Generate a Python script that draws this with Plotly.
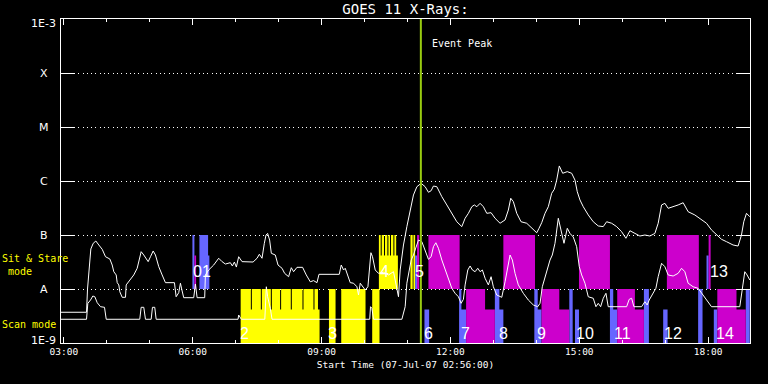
import math
import plotly.graph_objects as go

DAY = "2007-07-07 "

# ---------------- GOES 11 long channel (1-8 A), W/m^2 ----------------
long_time = ["02:56:00","03:31:40","03:33:04","03:35:26","03:37:40","03:41:01","03:44:39","03:48:50","03:53:35","03:58:11",
"04:04:11","04:07:32","04:09:46","04:13:07","04:14:31","04:16:45","04:18:08","04:21:29","04:26:05","04:27:04",
"04:33:04","04:37:40","04:42:25","04:48:00","04:51:38","04:57:46","05:00:59","05:04:45","05:07:57","05:12:33",
"05:17:18","05:21:54","05:34:28","05:36:50","05:40:28","05:42:50","05:45:13","05:47:26","06:01:24","06:03:46",
"06:06:08","06:16:44","06:17:43","06:22:20","06:29:18","06:36:17","06:41:01","06:45:38","06:52:36","06:55:23",
"06:58:11","07:00:58","07:04:11","07:08:56","07:24:17","07:29:52","07:33:04","07:36:50","07:40:03","07:42:25",
"07:44:39","07:47:26","07:49:49","07:55:24","07:59:10","08:04:45","08:08:22","08:13:57","08:17:43","08:20:56",
"08:25:40","08:33:29","08:38:39","08:44:14","08:48:50","08:53:35","08:56:22","09:24:42","09:27:29","09:30:42",
"09:33:04","09:36:50","09:40:03","09:44:39","09:49:24","09:51:38","09:54:00","10:00:59","10:04:45","10:08:56",
"10:11:10","10:14:56","10:19:32","10:26:31","10:33:29","10:40:28","10:45:13","10:47:26","10:49:49","10:54:25",
"10:59:10","11:03:46","11:08:22","11:13:07","11:19:07","11:24:42","11:29:18","11:33:04","11:36:17","11:41:01",
"11:44:14","11:48:00","11:54:59","12:01:57","12:08:56","12:15:55","12:20:31","12:25:07","12:29:52","12:33:29",
"12:36:50","12:41:27","12:46:03","12:50:47","12:56:47","13:02:22","13:09:21","13:16:20","13:20:56","13:24:17",
"13:27:55","13:32:39","13:38:39","13:46:36","13:53:35","14:00:34","14:03:46","14:07:32","14:12:08","14:16:44",
"14:21:29","14:25:07","14:28:28","14:32:05","14:36:50","14:43:16","14:49:24","14:54:00","14:57:13","15:00:59",
"15:05:35","15:12:33","15:19:32","15:26:31","15:33:29","15:38:14","15:45:13","15:52:11","15:59:10","16:05:10",
"16:10:44","16:17:43","16:24:42","16:31:40","16:38:39","16:45:38","16:50:14","16:54:59","16:59:35","17:04:11",
"17:11:10","17:18:08","17:25:07","17:32:05","17:41:26","17:50:47","17:57:46","18:04:44","18:11:43","18:18:42",
"18:25:40","18:34:53","18:41:52","18:46:36","18:49:49","18:53:35","18:58:11"]
long_flux = [3.71e-9,3.71e-9,1.0e-8,3.03e-8,5.51e-8,7.02e-8,7.74e-8,6.53e-8,5.43e-8,3.96e-8,
3.60e-8,2.78e-8,2.09e-8,1.82e-8,1.31e-8,1.19e-8,8.91e-9,7.02e-9,7.02e-9,1.19e-8,
1.51e-8,1.82e-8,2.42e-8,4.91e-8,4.26e-8,3.21e-8,3.96e-8,5.06e-8,4.26e-8,2.59e-8,
1.82e-8,1.31e-8,1.31e-8,7.19e-9,8.53e-9,1.28e-8,9.19e-9,6.90e-9,6.90e-9,1.24e-8,
6.90e-9,6.90e-9,1.82e-8,2.25e-8,2.78e-8,3.71e-8,3.21e-8,2.90e-8,3.07e-8,2.67e-8,
3.16e-8,2.55e-8,3.96e-8,3.21e-8,3.16e-8,3.71e-8,4.40e-8,3.71e-8,7.02e-8,1.0e-7,
1.07e-7,8.07e-8,4.58e-8,4.26e-8,2.78e-8,2.42e-8,1.95e-8,1.69e-8,2.48e-8,2.09e-8,
2.52e-8,2.52e-8,1.82e-8,1.36e-8,1.43e-8,1.31e-8,1.87e-8,1.87e-8,2.78e-8,2.25e-8,
2.42e-8,1.82e-8,1.31e-8,1.28e-8,1.10e-8,7.74e-9,1.28e-8,9.58e-9,1.10e-8,4.70e-8,
3.96e-8,2.25e-8,1.95e-8,2.04e-8,1.82e-8,2.09e-8,9.58e-9,7.19e-9,2.25e-8,6.53e-8,
1.43e-7,2.90e-7,5.51e-7,7.84e-7,9.06e-7,7.84e-7,6.18e-7,6.61e-7,8.07e-7,7.84e-7,
6.34e-7,5.12e-7,3.60e-7,2.52e-7,1.76e-7,1.43e-7,2.04e-7,2.52e-7,3.34e-7,3.60e-7,
3.34e-7,3.86e-7,3.34e-7,2.52e-7,2.59e-7,2.04e-7,1.65e-7,1.90e-7,2.90e-7,4.79e-7,
4.14e-7,2.52e-7,1.76e-7,1.65e-7,1.33e-7,1.10e-7,1.33e-7,1.69e-7,2.52e-7,3.34e-7,
5.92e-7,7.02e-7,1.04e-6,1.90e-6,1.39e-6,1.49e-6,1.39e-6,1.04e-6,6.34e-7,4.45e-7,
3.34e-7,2.35e-7,1.76e-7,1.47e-7,1.43e-7,1.76e-7,1.65e-7,1.43e-7,1.15e-7,8.69e-8,
1.20e-7,1.07e-7,9.58e-8,1.0e-7,9.58e-8,1.07e-7,1.65e-7,3.60e-7,3.86e-7,3.12e-7,
3.34e-7,3.60e-7,3.96e-7,2.70e-7,2.35e-7,1.90e-7,1.65e-7,1.24e-7,1.0e-7,8.32e-8,
7.52e-8,6.53e-8,6.25e-8,1.0e-7,1.76e-7,2.52e-7,2.18e-7]

# ---------------- GOES 11 short channel (0.5-4 A) ----------------
short_time = ["02:56:00","03:31:40","03:33:29","03:37:15","03:40:28","03:43:15","03:46:36","03:51:13","03:56:47","03:59:10",
"04:46:03","04:48:00","04:51:38","04:54:00","05:01:57","05:03:46","05:06:59","05:08:56","07:03:21","07:04:11",
"07:07:57","07:40:44","07:42:50","07:44:39","07:48:25","07:50:47","10:07:16","10:08:22","10:10:20","10:12:33",
"10:52:11","10:56:47","10:59:10","11:02:22","11:05:10","11:08:22","11:11:43","11:15:21","11:20:05","11:24:42",
"11:29:18","11:33:04","11:36:17","11:39:38","11:43:15","11:48:00","11:52:36","11:57:13","12:01:57","12:06:34",
"12:11:10","12:14:56","12:18:08","12:20:31","12:24:17","12:27:29","12:30:42","12:34:28","12:38:14","12:41:27",
"12:44:39","12:48:25","12:53:01","12:56:47","13:00:00","13:04:44","13:11:43","13:16:20","13:20:05","13:23:18",
"13:26:31","13:30:17","13:34:53","13:41:52","13:48:50","13:55:49","14:01:57","14:05:10","14:08:22","14:12:08",
"14:15:55","14:19:07","14:22:20","14:26:05","14:30:42","14:35:26","14:38:39","14:43:16","14:47:01","14:51:38",
"14:56:22","15:00:00","15:03:21","15:07:57","15:12:33","15:19:32","15:23:18","15:26:31","15:29:52","15:33:29",
"15:37:15","15:40:28","16:06:08","16:09:46","16:13:07","16:16:20","16:27:04","16:31:40","16:34:53","16:37:40",
"16:42:25","16:47:01","16:50:14","16:54:59","16:59:35","17:04:11","17:11:10","17:18:08","17:22:53","17:27:29",
"17:32:05","17:39:04","17:46:03","17:50:47","17:57:46","18:04:44","18:44:14","18:48:00","18:51:13","18:54:25",
"18:58:11"]
short_flux = [2.75e-9,2.75e-9,5.43e-9,6.25e-9,7.42e-9,7.19e-9,5.57e-9,4.70e-9,4.58e-9,2.75e-9,
2.75e-9,4.58e-9,4.58e-9,2.75e-9,2.75e-9,4.58e-9,4.58e-9,2.75e-9,2.75e-9,3.30e-9,
2.75e-9,2.75e-9,1.10e-8,7.19e-9,4.40e-9,2.75e-9,2.75e-9,4.70e-9,4.40e-9,2.75e-9,
2.75e-9,4.70e-9,1.28e-8,2.25e-8,3.44e-8,4.26e-8,5.92e-8,8.07e-8,7.52e-8,5.27e-8,
3.55e-8,3.96e-8,6.07e-8,7.19e-8,5.68e-8,3.44e-8,2.25e-8,1.47e-8,1.03e-8,8.32e-9,
7.19e-9,5.43e-9,6.44e-9,1.19e-8,2.25e-8,2.67e-8,2.25e-8,2.09e-8,2.42e-8,2.09e-8,
2.25e-8,1.58e-8,1.19e-8,1.69e-8,1.10e-8,7.74e-9,7.02e-9,1.36e-8,2.42e-8,4.26e-8,
3.44e-8,1.95e-8,1.19e-8,8.32e-9,6.25e-9,5.06e-9,4.70e-9,5.43e-9,1.10e-8,1.69e-8,
2.42e-8,3.44e-8,4.26e-8,7.02e-8,2.04e-7,1.15e-7,7.02e-8,1.33e-7,1.07e-7,9.18e-8,
6.07e-8,2.59e-8,1.82e-8,1.28e-8,7.19e-9,6.73e-9,4.70e-9,5.43e-9,4.70e-9,6.73e-9,
8.32e-9,4.70e-9,4.70e-9,6.44e-9,6.73e-9,4.70e-9,4.70e-9,5.82e-9,5.06e-9,6.25e-9,
8.32e-9,1.03e-8,1.69e-8,2.99e-8,2.59e-8,1.82e-8,1.74e-8,1.95e-8,2.42e-8,2.09e-8,
1.28e-8,1.10e-8,1.03e-8,8.32e-9,6.25e-9,4.70e-9,4.70e-9,9.58e-9,2.09e-8,1.82e-8,
1.47e-8]

# ---------------- XRT observation blocks ----------------
obs_start = ["05:59:35","06:02:22","06:09:21","06:21:29",
"07:06:59","07:06:59","07:22:36","07:36:33","07:50:31","08:03:29","08:18:25","08:34:44","08:50:06",
"09:10:20","09:27:29","10:10:44",
"10:20:05","10:20:05","10:24:00","10:28:36","10:33:21","10:36:59","10:41:43",
"11:04:11","11:08:22","11:10:44","11:13:24",
"11:23:43","11:29:18",
"12:12:08","12:15:21","12:21:55","12:48:25","13:02:05","13:08:22","13:13:57",
"13:57:13","14:01:57","14:07:16","14:32:05","14:46:03","14:54:00","14:59:35",
"15:42:50","15:47:26","15:53:01","16:17:43","16:30:17",
"16:57:13","17:02:22","17:46:03","17:57:46","18:00:42",
"18:07:57","18:12:50","18:39:38","18:52:36"]
obs_end = ["06:02:22","06:04:44","06:21:29","06:23:18",
"08:57:13","07:21:13","07:35:10","07:49:07","08:02:05","08:17:01","08:33:21","08:48:42","08:54:59",
"09:19:32","10:01:24","10:20:56",
"10:46:36","10:22:36","10:27:13","10:31:57","10:35:35","10:40:20","10:44:14",
"11:07:16","11:10:44","11:13:24","11:16:20",
"11:30:17","12:12:50",
"12:15:21","12:21:55","12:48:25","13:02:05","13:08:22","13:13:57","13:58:11",
"14:01:57","14:07:16","14:32:05","14:46:03","14:50:47","14:59:35","15:42:50",
"15:47:26","15:53:01","16:17:43","16:30:17","16:37:16",
"17:03:21","17:47:01","17:52:11","18:00:42","18:03:29",
"18:12:50","18:39:38","18:52:36","18:58:11"]
obs_mode = ["SS","SS","SS","SS",
"SCAN","SCAN","SCAN","SCAN","SCAN","SCAN","SCAN","SCAN","SCAN",
"SCAN","SCAN","SCAN",
"SS","SS","SS","SS","SS","SS","SS",
"SS","SS","SS","SS",
"SCAN","SS",
"SCAN","SCAN","SCAN","SCAN","SCAN","SCAN","SS",
"SCAN","SCAN","SCAN","SCAN","SCAN","SCAN","SS",
"SCAN","SCAN","SCAN","SCAN","SCAN",
"SCAN","SS","SCAN","SS","SS",
"SCAN","SCAN","SCAN","SCAN"]
obs_level = ["full","part","full","part",
"part","full","full","full","full","full","full","full","full",
"full","full","full",
"part","full","full","full","full","full","full",
"full","full","part","full",
"part","full",
"full","part","full","part","full","part","full",
"full","part","full","part","full","part","full",
"full","part","full","part","full",
"part","full","full","part","full",
"part","full","part","full"]
obs_kind = ["B","M","B","B",
"Y","Y","Y","Y","Y","Y","Y","Y","Y",
"Y","Y","Y",
"Y","Y","Y","Y","Y","Y","Y",
"Y","Y","B","M",
"B","M",
"B","B","M","M","B","B","M",
"B","B","M","M","B","B","M",
"B","B","M","M","B",
"B","M","B","B","M",
"B","M","M","B"]

group_name = ["01","2","3","4","5","6","7","8","9","10","11","12","13","14"]
group_time = ["06:02:22","07:07:57","09:10:44","10:22:53","11:12:08","11:24:17","12:15:55",
              "13:09:21","14:01:57","14:56:22","15:49:49","16:59:35","18:03:46","18:11:43"]
group_mode = ["SS","SCAN","SCAN","SS","SS","SCAN","SCAN","SCAN","SCAN","SCAN","SCAN","SCAN","SS","SCAN"]

goes_class = ["1E-3", "X", "M", "C", "B", "A", "1E-9"]
goes_level = [1e-3, 1e-4, 1e-5, 1e-6, 1e-7, 1e-8, 1e-9]

event_peak = "11:18:42"
x_start, x_end = "02:56:00", "18:58:30"

assert len(long_time) == len(long_flux)
assert len(short_time) == len(short_flux)
n = len(obs_start)
assert all(len(a) == n for a in (obs_end, obs_mode, obs_level, obs_kind))

# ---------------- figure ----------------
band = {"SS": (1e-8, 1e-7, 10 ** -7.38), "SCAN": (1e-9, 1e-8, 10 ** -8.38)}
kind_color = {"Y": "#FFFF00", "B": "#6666FF", "M": "#CC00CC"}

fig = go.Figure()
for kind in ["Y", "B", "M"]:
    xs, ys = [], []
    for s, e, m, lv, k in zip(obs_start, obs_end, obs_mode, obs_level, obs_kind):
        if k != kind:
            continue
        lo, hi_full, hi_part = band[m]
        hi = hi_full if lv == "full" else hi_part
        xs += [DAY + s, DAY + e, DAY + e, DAY + s, DAY + s, None]
        ys += [lo, lo, hi, hi, lo, None]
    fig.add_trace(go.Scatter(x=xs, y=ys, mode="lines", fill="toself",
                             fillcolor=kind_color[kind], line=dict(width=0, color=kind_color[kind]),
                             hoverinfo="skip", showlegend=False))

fig.add_trace(go.Scatter(x=[DAY + t for t in long_time], y=long_flux, mode="lines",
                         line=dict(color="white", width=1), showlegend=False, name="1-8 A"))
fig.add_trace(go.Scatter(x=[DAY + t for t in short_time], y=short_flux, mode="lines",
                         line=dict(color="white", width=1), showlegend=False, name="0.5-4 A"))

fig.add_shape(type="line", xref="x", yref="paper", x0=DAY + event_peak, x1=DAY + event_peak,
              y0=0, y1=1, line=dict(color="#99CC11", width=2))

small = dict(family="DejaVu Sans Mono", size=10, color="white")

annotations = []
for txt, lvl in zip(goes_class, goes_level):
    shift = -4 if txt == "1E-3" else (3 if txt == "1E-9" else 0)
    annotations.append(dict(text=txt, xref="paper", yref="y", x=-0.0247, y=math.log10(lvl),
                            xanchor="center", yanchor="middle", yshift=shift, showarrow=False,
                            font=dict(family="DejaVu Sans", size=11, color="white")))
label_y = {"SS": -7.685, "SCAN": -8.815}
for nm, t, m in zip(group_name, group_time, group_mode):
    annotations.append(dict(text=nm, xref="x", yref="y", x=DAY + t, y=label_y[m], xanchor="left",
                            xshift=-3, yanchor="middle", showarrow=False,
                            font=dict(family="Liberation Sans", size=16, color="white")))
annotations.append(dict(text="Event Peak", xref="x", yref="paper", x=DAY + event_peak, xshift=9,
                        y=1 - 24 / 324, xanchor="left", yanchor="middle", showarrow=False, font=small))
annotations.append(dict(text="Sit & Stare<br> mode", xref="paper", yref="y", x=-0.089, y=-7.55,
                        xanchor="left", yanchor="middle", align="left", showarrow=False,
                        font=dict(family="DejaVu Sans Mono", size=10, color="#FFFF00")))
annotations.append(dict(text="Scan mode", xref="paper", yref="y", x=-0.089, y=-8.655,
                        xanchor="left", yanchor="middle", align="left", showarrow=False,
                        font=dict(family="DejaVu Sans Mono", size=10, color="#FFFF00")))

fig.update_layout(
    width=768, height=384,
    margin=dict(l=61, r=18, t=19, b=41),
    paper_bgcolor="black", plot_bgcolor="black",
    title=dict(text="GOES 11 X-Rays:", x=0.5, xref="paper", y=1 - 9 / 384, yref="container",
               xanchor="center", yanchor="middle",
               font=dict(family="DejaVu Sans Mono", size=14, color="white")),
    annotations=annotations,
    xaxis=dict(type="date", range=[DAY + x_start, DAY + x_end], showgrid=False, zeroline=False,
               showline=True, linecolor="white", linewidth=1, mirror="ticks",
               ticks="inside", ticklen=6, tickcolor="white", tickwidth=1,
               tick0=DAY + "03:00:00", dtick=3 * 3600 * 1000, tickformat="%H:%M",
               tickfont=dict(family="DejaVu Sans Mono", size=9.5, color="white"),
               minor=dict(dtick=3600 * 1000, ticks="inside", ticklen=3, tickcolor="white", showgrid=False),
               title=dict(text="Start Time (07-Jul-07 02:56:00)", standoff=4,
                          font=dict(family="DejaVu Sans Mono", size=9.5, color="white"))),
    yaxis=dict(type="log", range=[-9, -3], showline=True, linecolor="white", linewidth=1, mirror="ticks",
               tickvals=goes_level[1:6], ticks="inside", ticklen=14, tickcolor="white",
               showticklabels=False, showgrid=True, gridcolor="white", gridwidth=1,
               griddash="1px,3.3px", zeroline=False),
)

fig.write_html("out.html", config={"displayModeBar": False},
               post_script="document.body.style.margin='0';document.body.style.background='black';")
